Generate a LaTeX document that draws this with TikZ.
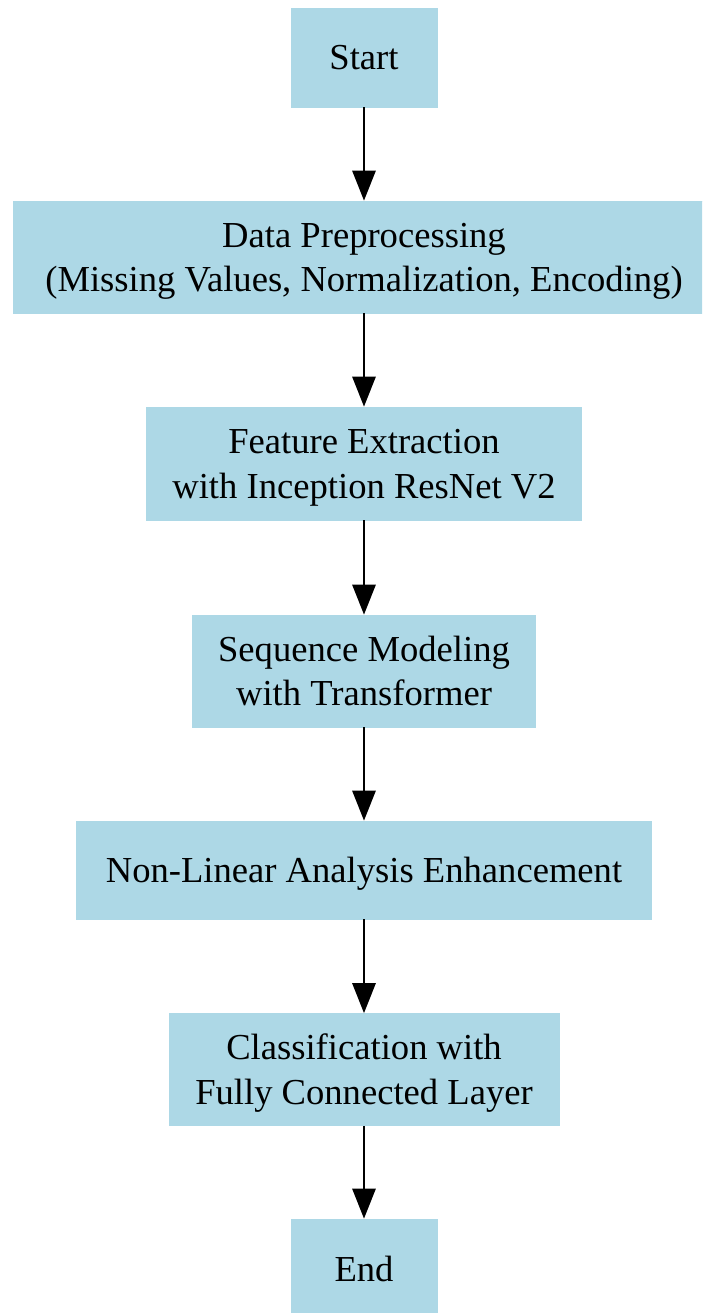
\documentclass[tikz,border=0pt]{standalone}
\usepackage{fontspec}
\setmainfont{Liberation Serif}
\usetikzlibrary{arrows.meta}
\definecolor{lblue}{HTML}{ADD8E6}
\newcommand{\bxs}{\rule[-9pt]{0pt}{43pt}}
\tikzset{
  box/.style={rectangle, fill=lblue, draw=lblue, line width=0.6pt, inner sep=0pt, align=center,
    font=\fontsize{36.6}{44.5}\selectfont},
  flow/.style={line width=2.8pt, -{Triangle[length=30pt,width=23pt]}}
}
\begin{document}
\begin{tikzpicture}[x=1pt,y=1pt]
\useasboundingbox (0,0) rectangle (702,-1313);
\begin{scope}
\clip (0,0) rectangle (702,-1313);
\node[box, minimum width=146pt, minimum height=99pt] (start) at (364,-57.5) {\bxs Start};
\node[box, minimum width=702pt, minimum height=112pt] (prep) at (364,-257) {\bxs Data Preprocessing\\\bxs(Missing Values, Normalization, Encoding)};
\node[box, minimum width=435pt, minimum height=113pt] (feat) at (364,-463.5) {\bxs Feature Extraction\\\bxs with Inception ResNet V2};
\node[box, minimum width=343pt, minimum height=112pt] (seq) at (364,-671) {\bxs Sequence Modeling\\\bxs with Transformer};
\node[box, minimum width=575pt, minimum height=98pt] (nonlin) at (364,-870) {\bxs Non-Linear Analysis Enhancement};
\node[box, minimum width=390pt, minimum height=112pt] (cls) at (364,-1069.5) {\bxs Classification with\\\bxs Fully Connected Layer};
\node[box, minimum width=146pt, minimum height=99pt] (fin) at (364,-1268.5) {\bxs End};
\end{scope}
\draw[flow] (start.south) -- (prep.north);
\draw[flow] (prep.south) -- (feat.north);
\draw[flow] (feat.south) -- (seq.north);
\draw[flow] (seq.south) -- (nonlin.north);
\draw[flow] (nonlin.south) -- (cls.north);
\draw[flow] (cls.south) -- (fin.north);
\end{tikzpicture}
\end{document}
